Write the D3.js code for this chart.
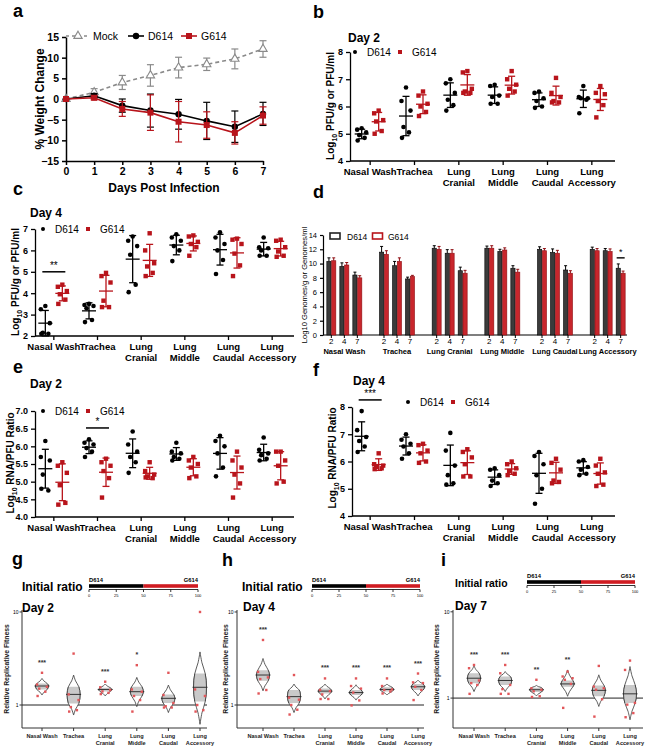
<!DOCTYPE html>
<html><head><meta charset="utf-8">
<script src="https://cdn.jsdelivr.net/npm/d3@7"></script>
<style>body{margin:0;background:#fff}svg{display:block;font-family:"Liberation Sans",Arial,sans-serif}</style>
</head><body><svg id="chart" width="647" height="749"></svg>
<script>
// ---------- Panel a: weight change ----------
const days = [0,1,2,3,4,5,6,7];
const mockMean = [0,1.6,4.0,5.7,7.6,8.4,9.7,12.1];
const mockErr  = [0,0.9,1.7,2.6,2.5,1.5,2.4,2.0];
const d614Mean = [0,0.8,-1.6,-2.8,-3.7,-5.3,-6.7,-3.6];
const d614Err  = [0,0.5,1.6,4.0,3.6,4.5,3.8,2.8];
const g614Mean = [0,0.3,-2.4,-3.3,-5.5,-6.3,-8.2,-4.0];
const g614Err  = [0,0.5,1.8,4.3,4.9,3.2,2.7,2.1];
const weightTicks = [-15,-10,-5,0,5,10,15];

// ---------- Tissues ----------
const tissues = ["Nasal Wash","Trachea","Lung Cranial","Lung Middle","Lung Caudal","Lung Accessory"];
const tissueLines = [["Nasal Wash"],["Trachea"],["Lung","Cranial"],["Lung","Middle"],["Lung","Caudal"],["Lung","Accessory"]];

// ---------- Panel b: Day 2 titers ----------
const bD614 = [[5.2,5.15,5.05,4.95,4.85,4.75],[6.7,6.2,5.85,5.25,5.05,4.85],[7.0,6.85,6.5,6.25,6.05,5.85],[6.8,6.75,6.4,6.35,6.1,6.1],[6.55,6.5,6.3,6.2,6.0,5.95],[6.75,6.35,6.3,6.3,6.25,5.75]];
const bG614 = [[5.85,5.75,5.5,5.45,5.1,5.0],[6.55,6.4,6.1,6.0,5.8,5.65],[7.3,7.25,6.65,6.55,6.5,6.5],[7.3,7.0,6.8,6.65,6.55,6.4],[7.05,6.5,6.35,6.2,6.15,6.15],[6.75,6.5,6.45,6.2,6.05,5.6]];
const bTicks = [4,5,6,7,8];
// ---------- Panel c: Day 4 titers ----------
const cD614 = [[3.4,3.25,2.6,2.15,2.1,2.1],[3.5,3.45,3.4,3.3,2.75,2.65],[6.65,6.45,6.2,5.8,4.4,4.05],[6.75,6.6,6.45,6.2,6.0,5.5],[6.85,6.6,6.3,6.0,5.55,4.9],[6.6,6.15,6.1,6.0,5.75,5.75]];
const cG614 = [[4.4,4.3,4.1,3.95,3.7,3.5],[4.95,4.8,4.5,3.65,3.35,3.35],[6.8,6.0,5.4,5.25,4.95,4.8],[6.7,6.65,6.4,6.3,6.15,5.75],[6.55,6.5,6.3,5.85,5.3,4.8],[6.5,6.45,6.15,5.95,5.75,5.7]];
const cTicks = [2,3,4,5,6,7];
const cSig = [["Nasal Wash",5.0,"**"]];
// ---------- Panel d: genomes ----------
const dDays = ["2","4","7"];
const dD614 = [[10.3,9.6,8.4],[11.6,9.7,7.85],[12.15,11.45,9.0],[12.15,11.7,9.35],[12.0,11.55,9.1],[12.0,11.8,9.35]];
const dG614 = [[10.4,9.8,8.0],[11.3,10.3,8.2],[12.0,11.45,8.65],[12.15,11.9,8.8],[11.8,11.45,8.65],[11.8,11.7,8.65]];
const dD614Err = [[0.5,0.5,0.4],[0.8,0.6,0.25],[0.35,0.5,0.5],[0.3,0.3,0.35],[0.35,0.5,0.6],[0.3,0.3,0.6]];
const dG614Err = [[0.4,0.35,0.3],[0.5,0.5,0.15],[0.4,0.5,0.4],[0.35,0.3,0.4],[0.3,0.4,0.35],[0.3,0.35,0.3]];
const dTicks = [0,2,4,6,8,10,12,14];
const dSig = [["Lung Accessory","7",10.8,"*"]];
// ---------- Panel e: RNA/PFU day 2 ----------
const eD614 = [[6.15,5.7,5.6,5.2,4.75,4.8],[6.2,6.1,6.05,5.95,5.85,5.7],[6.42,6.05,5.85,5.7,5.55,5.25],[6.1,5.85,5.8,5.7,5.65,5.6],[6.3,6.15,6.0,5.8,5.4,5.15],[6.25,5.9,5.8,5.75,5.65,5.6]];
const eG614 = [[5.55,5.45,5.25,4.9,4.4,4.35],[5.65,5.55,5.45,5.3,5.1,4.55],[5.55,5.3,5.2,5.15,5.1,5.12],[5.7,5.6,5.5,5.4,5.15,5.1],[5.85,5.6,5.4,5.2,4.95,4.55],[5.85,5.85,5.6,5.45,5.0,4.95]];
const eTicks = [4.0,4.5,5.0,5.5,6.0,6.5,7.0];
const eSig = [["Trachea",6.52,"*"]];
// ---------- Panel f: RNA/PFU day 4 ----------
const fD614 = [[7.85,7.15,6.9,6.75,6.55,6.35],[7.0,6.8,6.65,6.55,6.3,6.1],[7.05,6.4,5.85,5.5,5.2,5.15],[5.75,5.7,5.5,5.3,5.2,5.1],[6.35,6.2,5.9,5.5,5.0,4.45],[6.05,6.0,5.8,5.7,5.55,5.5]];
const fG614 = [[6.3,5.9,5.85,5.8,5.75,5.72],[6.65,6.6,6.4,6.3,6.0,5.95],[6.45,6.35,6.15,5.9,5.45,5.45],[6.0,5.9,5.75,5.65,5.55,5.5],[6.1,5.95,5.7,5.3,5.25,5.2],[6.1,5.85,5.6,5.55,5.15,5.1]];
const fTicks = [4,5,6,7,8];
const fSig = [["Nasal Wash",8.26,"***"]];
// ---------- Panels g-i: relative replicative fitness ----------
const ratioTicks = [0,25,50,75,100];
const initialShare = [50,50];
const fitTicks = [1,10];
// [low, q1, median, q3, high]
const gViolin = [[1.28,1.47,1.6,1.7,1.93],[0.78,1.04,1.3,1.57,2.1],[1.25,1.4,1.47,1.53,1.68],[0.96,1.25,1.39,1.57,1.98],[0.83,1.05,1.18,1.3,1.64],[0.62,1.09,1.55,2.18,3.72]];
const gPoints = [[2.22,1.66,1.57,1.5,1.39,1.25],[3.57,1.3,1.13,0.95,0.88,0.85],[1.78,1.55,1.45,1.4,1.35,1.31],[2.68,1.47,1.39,1.25,1.13,0.85],[2.22,1.28,1.05,0.97,0.94,0.94],[10,1.47,1.25,1.0,0.88,0.85]];
const gStars = ["***","","***","*","",""];
const hViolin = [[1.42,1.82,2.1,2.37,3.16],[0.83,1.05,1.23,1.45,1.68],[1.16,1.33,1.41,1.5,1.68],[1.13,1.28,1.36,1.45,1.65],[1.28,1.4,1.47,1.55,1.68],[1.25,1.45,1.57,1.68,1.85]];
const hPoints = [[5.0,2.27,1.98,1.9,1.45,1.33],[2.1,1.2,1.14,1.0,0.89,0.79],[1.93,1.45,1.41,1.3,1.16,1.16],[1.93,1.6,1.5,1.36,1.12,0.99],[1.93,1.6,1.47,1.45,1.4,1.33],[2.18,1.75,1.72,1.57,1.45,1.13]];
const hStars = ["***","","***","***","***","***"];
const iViolin = [[1.19,1.49,1.7,1.94,2.36],[1.19,1.42,1.6,1.78,2.03],[1.06,1.18,1.25,1.32,1.4],[1.05,1.35,1.46,1.6,2.12],[0.8,1.05,1.23,1.4,1.86],[0.56,0.88,1.12,1.42,2.32]];
const iPoints = [[2.42,2.22,1.6,1.49,1.42,1.12],[2.42,1.94,1.42,1.27,1.12,1.12],[1.63,1.3,1.25,1.2,1.05,1.03],[2.03,1.78,1.7,1.63,1.46,0.77],[2.36,1.36,1.3,1.25,0.97,0.61],[2.72,2.12,0.88,0.84,0.67,0.6]];
const iStars = ["***","***","**","**","",""];

// ================= drawing =================
const RED = "#b8141b";
const svg = d3.select("#chart");
function text(g,x,y,s,size,o={}){
  return g.append("text").attr("x",x).attr("y",y).text(s)
    .attr("font-size",size).attr("font-weight",o.w||"normal")
    .attr("text-anchor",o.a||"start").attr("fill",o.c||"#000");
}
function styleAxis(ax,size,weight,sw){
  ax.select(".domain").attr("stroke","#000").attr("stroke-width",sw||1.3);
  ax.selectAll(".tick line").attr("stroke","#000").attr("stroke-width",sw||1.3);
  ax.selectAll(".tick text").attr("font-size",size).attr("font-weight",weight)
    .attr("font-family",'"Liberation Sans",Arial,sans-serif').attr("fill","#000");
}
function rotLabel(g,cx,cy,parts,size,weight){
  const t=g.append("text").attr("transform",`translate(${cx},${cy}) rotate(-90)`)
    .attr("text-anchor","middle").attr("font-size",size).attr("font-weight",weight||"bold");
  parts.forEach(p=>{
    const ts=t.append("tspan").text(p.t);
    if(p.sub) ts.attr("font-size",size*0.7).attr("dy",size*0.3);
    if(p.after) ts.attr("dy",-size*0.3);
  });
  return t;
}
// panel letters
[["a",13,17],["b",313,18],["c",13,195],["d",313,198],["e",13,373],["f",313,376],["g",12,565],["h",222,566],["i",441,566]]
  .forEach(([l,x,y])=>text(svg,x,y,l,18,{w:"bold"}));

// ---- Panel a ----
(function(){
  const g=svg.append("g");
  const x=d3.scaleLinear([0,7],[66,263]);
  const y=d3.scaleLinear([-15,15],[161,37]);
  const ya=g.append("g").attr("transform","translate(66,0)")
    .call(d3.axisLeft(y).tickValues(weightTicks).tickFormat(d3.format("d")).tickSize(4).tickSizeOuter(0));
  styleAxis(ya,10.5,"bold",1.5);
  const xa=g.append("g").attr("transform","translate(0,161)")
    .call(d3.axisBottom(x).tickValues(days).tickFormat(d3.format("d")).tickSize(4).tickSizeOuter(0));
  styleAxis(xa,10.5,"bold",1.5);
  text(g,164,192,"Days Post Infection",12,{w:"bold",a:"middle"});
  rotLabel(g,44,99,[{t:"% Weight Change"}],12,"bold");
  const series=[
    {m:mockMean,e:mockErr,c:"#8a8a8a",dash:"4,3",shape:"tri"},
    {m:d614Mean,e:d614Err,c:"#000",shape:"circ"},
    {m:g614Mean,e:g614Err,c:RED,shape:"sq"}];
  function marker(sg,shape,cx,cy,c){
    if(shape==="tri") sg.append("path").attr("d",d3.symbol(d3.symbolTriangle,30)()).attr("transform",`translate(${cx},${cy})`).attr("fill","#fff").attr("stroke",c).attr("stroke-width",1.1);
    else if(shape==="circ") sg.append("circle").attr("cx",cx).attr("cy",cy).attr("r",3.2).attr("fill",c);
    else sg.append("rect").attr("x",cx-3).attr("y",cy-3).attr("width",6).attr("height",6).attr("fill",c);
  }
  series.forEach(s=>{
    const sg=g.append("g");
    days.forEach((d,i)=>{
      if(s.e[i]<=0) return;
      const cx=x(d), y1=y(s.m[i]+s.e[i]), y2=y(s.m[i]-s.e[i]);
      sg.append("line").attr("x1",cx).attr("x2",cx).attr("y1",y1).attr("y2",y2).attr("stroke",s.c).attr("stroke-width",1.2);
      [y1,y2].forEach(yy=>sg.append("line").attr("x1",cx-3.5).attr("x2",cx+3.5).attr("y1",yy).attr("y2",yy).attr("stroke",s.c).attr("stroke-width",1.2));
    });
    sg.append("path").attr("d",d3.line().x((d,i)=>x(days[i])).y(d=>y(d))(s.m))
      .attr("fill","none").attr("stroke",s.c).attr("stroke-width",1.6).attr("stroke-dasharray",s.dash||null);
    days.forEach((d,i)=>marker(sg,s.shape,x(d),y(s.m[i]),s.c));
  });
  // legend
  const ly=36;
  g.append("line").attr("x1",66).attr("x2",90).attr("y1",ly).attr("y2",ly).attr("stroke","#8a8a8a").attr("stroke-width",1.5).attr("stroke-dasharray","3,3");
  marker(g,"tri",78,ly,"#8a8a8a");
  text(g,93,ly+3.8,"Mock",10.5);
  g.append("line").attr("x1",128).attr("x2",144).attr("y1",ly).attr("y2",ly).attr("stroke","#000").attr("stroke-width",1.6);
  marker(g,"circ",136,ly,"#000");
  text(g,148,ly+3.8,"D614",10.5);
  g.append("line").attr("x1",181).attr("x2",197).attr("y1",ly).attr("y2",ly).attr("stroke",RED).attr("stroke-width",1.6);
  marker(g,"sq",189,ly,RED);
  text(g,201,ly+3.8,"G614",10.5);
})();

// ---- Dot plots (b, c, e, f) ----
const jitter=[0,-4.5,4.5,-2.5,3,-4];
function dotPlot(c){
  const g=svg.append("g");
  const x=d3.scaleBand(tissues,c.xr);
  const y=d3.scaleLinear(c.yd,c.yr);
  const ya=g.append("g").attr("transform",`translate(${c.ax},0)`)
    .call(d3.axisLeft(y).tickValues(c.ticks).tickFormat(c.fmt).tickSize(4).tickSizeOuter(0));
  styleAxis(ya,9,"bold",1.3);
  const y0=c.yr[0];
  g.append("line").attr("x1",c.ax).attr("x2",c.xe).attr("y1",y0).attr("y2",y0).attr("stroke","#000").attr("stroke-width",1.3);
  tissues.forEach((t,i)=>{
    const cx=x(t)+x.bandwidth()/2;
    g.append("line").attr("x1",cx).attr("x2",cx).attr("y1",y0).attr("y2",y0+4).attr("stroke","#000").attr("stroke-width",1.3);
    tissueLines[i].forEach((l,k)=>text(g,cx,y0+14+k*10.5,l,9.5,{w:"bold",a:"middle"}));
  });
  [[c.D,"#000","circ",-c.off],[c.G,RED,"sq",c.off]].forEach(([data,col,shape,off])=>{
    data.forEach((vals,i)=>{
      const cx=x(tissues[i])+x.bandwidth()/2+off;
      vals.forEach((v,j)=>{
        const px=cx+jitter[j], py=y(v);
        if(shape==="circ") g.append("circle").attr("cx",px).attr("cy",py).attr("r",2.3).attr("fill",col);
        else g.append("rect").attr("x",px-2.2).attr("y",py-2.2).attr("width",4.4).attr("height",4.4).attr("fill",col);
      });
      const m=d3.mean(vals), sd=d3.deviation(vals);
      const yt=y(m+sd), yb=y(m-sd);
      g.append("line").attr("x1",cx).attr("x2",cx).attr("y1",yt).attr("y2",yb).attr("stroke",col).attr("stroke-width",1.3);
      [yt,yb].forEach(yy=>g.append("line").attr("x1",cx-3.5).attr("x2",cx+3.5).attr("y1",yy).attr("y2",yy).attr("stroke",col).attr("stroke-width",1.3));
      g.append("line").attr("x1",cx-7).attr("x2",cx+7).attr("y1",y(m)).attr("y2",y(m)).attr("stroke",col).attr("stroke-width",1.3);
    });
  });
  // legend
  g.append("circle").attr("cx",c.lx).attr("cy",c.ly).attr("r",2).attr("fill","#000");
  text(g,c.lx+12,c.ly+3.5,"D614",10);
  g.append("rect").attr("x",c.lx+45-2).attr("y",c.ly-2).attr("width",4).attr("height",4).attr("fill",RED);
  text(g,c.lx+57,c.ly+3.5,"G614",10);
  text(g,c.dx,c.dy,c.day,12,{w:"bold"});
  (c.sig||[]).forEach(([t,v,s])=>{
    const cx=x(t)+x.bandwidth()/2, yy=y(v);
    g.append("line").attr("x1",cx-c.off-3).attr("x2",cx+c.off+3).attr("y1",yy).attr("y2",yy).attr("stroke","#000").attr("stroke-width",1.5);
    text(g,cx,yy-3,s,10,{a:"middle"});
  });
  rotLabel(g,c.ylx,c.yly,c.ylab,10,"bold");
}
const fmtInt=d3.format("d"), fmt1=d3.format(".1f");
const pfuLab=[{t:"Log"},{t:"10",sub:true},{t:" PFU/g or PFU/ml",after:true}];
const rnaLab=[{t:"Log"},{t:"10",sub:true},{t:" RNA/PFU Ratio",after:true}];
dotPlot({ax:350,xe:615,xr:[348,614],yd:[4,8],yr:[161,52],ticks:bTicks,fmt:fmtInt,off:8.5,D:bD614,G:bG614,
  lx:355,ly:52,day:"Day 2",dx:348,dy:42,ylab:pfuLab,ylx:334,yly:106});
dotPlot({ax:35,xe:294,xr:[32,294],yd:[2,7],yr:[336,229],ticks:cTicks,fmt:fmtInt,off:8.5,D:cD614,G:cG614,
  lx:43,ly:229,day:"Day 4",dx:30,dy:217,ylab:pfuLab,ylx:19,yly:282,sig:cSig});
dotPlot({ax:35,xe:294,xr:[32,294],yd:[4,7],yr:[517,411],ticks:eTicks,fmt:fmt1,off:8.5,D:eD614,G:eG614,
  lx:43,ly:411,day:"Day 2",dx:30,dy:388,ylab:rnaLab,ylx:14,yly:463,sig:eSig});
dotPlot({ax:352,xe:615,xr:[348,614],yd:[4,8],yr:[516,407],ticks:fTicks,fmt:fmtInt,off:8.5,D:fD614,G:fG614,
  lx:408,ly:402,day:"Day 4",dx:353,dy:385,ylab:rnaLab,ylx:336,yly:458,sig:fSig});

// ---- Panel d: bars ----
(function(){
  const g=svg.append("g");
  const x=d3.scaleBand(tissues,[318,634]);
  const xd=d3.scalePoint(dDays,[-13,13]);
  const y=d3.scaleLinear([0,14],[335,235]);
  const ya=g.append("g").attr("transform","translate(323,0)")
    .call(d3.axisLeft(y).tickValues(dTicks).tickSize(3).tickSizeOuter(0));
  styleAxis(ya,7.5,"normal",1.2);
  g.append("line").attr("x1",323).attr("x2",627).attr("y1",335).attr("y2",335).attr("stroke","#000").attr("stroke-width",1.2);
  const bw=4.2;
  tissues.forEach((t,i)=>{
    const gc=x(t)+x.bandwidth()/2;
    dDays.forEach((d,k)=>{
      const cx=gc+xd(d);
      [[dD614,dD614Err,"#3b3b3b","#000",-2.4],[dG614,dG614Err,"#c8262c","#8e0d12",2.4]].forEach(([vals,errs,fill,stroke,off])=>{
        const v=vals[i][k], e=errs[i][k], bx=cx+off;
        g.append("rect").attr("x",bx-bw/2).attr("y",y(v)).attr("width",bw).attr("height",335-y(v)).attr("fill",fill).attr("stroke",stroke).attr("stroke-width",0.6);
        g.append("line").attr("x1",bx).attr("x2",bx).attr("y1",y(v)).attr("y2",y(v+e)).attr("stroke",stroke).attr("stroke-width",1);
        g.append("line").attr("x1",bx-1.5).attr("x2",bx+1.5).attr("y1",y(v+e)).attr("y2",y(v+e)).attr("stroke",stroke).attr("stroke-width",1);
      });
      g.append("line").attr("x1",cx).attr("x2",cx).attr("y1",335).attr("y2",338).attr("stroke","#000");
      text(g,cx,344,d,8,{a:"middle"});
    });
    text(g,gc,353.5,t,7.5,{w:"bold",a:"middle"});
  });
  dSig.forEach(([t,d,v,s])=>{
    const cx=x(t)+x.bandwidth()/2+xd(d);
    g.append("line").attr("x1",cx-4).attr("x2",cx+4).attr("y1",y(v)).attr("y2",y(v)).attr("stroke","#000").attr("stroke-width",1.4);
    text(g,cx,y(v)-3,s,9,{a:"middle"});
  });
  // legend
  g.append("rect").attr("x",330).attr("y",233).attr("width",10).attr("height",6).attr("fill","#fff").attr("stroke","#222").attr("stroke-width",1.6);
  text(g,347,239.5,"D614",8.5);
  g.append("rect").attr("x",372.5).attr("y",233).attr("width",10).attr("height",6).attr("fill","#fff").attr("stroke",RED).attr("stroke-width",1.6);
  text(g,388,239.5,"G614",8.5);
  rotLabel(g,307,285,[{t:"Log10 Genomes/g or Genomes/ml"}],7.6,"normal");
})();

// ---- Panels g-i: violins ----
function ratioBar(c){
  const g=svg.append("g");
  const s=d3.scaleLinear([0,100],[c.x0,c.x1]);
  text(g,c.tx,c.ty,"Initial ratio",c.fs,{w:"bold"});
  g.append("rect").attr("x",s(0)).attr("y",c.y-1.8).attr("width",s(initialShare[0])-s(0)).attr("height",3.6).attr("fill","#000");
  g.append("rect").attr("x",s(initialShare[0])).attr("y",c.y-1.8).attr("width",s(100)-s(initialShare[0])).attr("height",3.6).attr("fill","#d01c22");
  g.append("line").attr("x1",s(0)).attr("x2",s(100)).attr("y1",c.y+3.5).attr("y2",c.y+3.5).attr("stroke","#000").attr("stroke-width",0.8);
  ratioTicks.forEach(t=>{
    g.append("line").attr("x1",s(t)).attr("x2",s(t)).attr("y1",c.y+3.5).attr("y2",c.y+6).attr("stroke","#000").attr("stroke-width",0.8);
    text(g,s(t),c.y+11,t,4,{a:"middle"});
  });
  text(g,s(0),c.y-4.5,"D614",5.8,{w:"bold"});
  text(g,s(100),c.y-4.5,"G614",5.8,{w:"bold",a:"end"});
}
let clipId=0;
function violinPlot(c){
  const g=svg.append("g");
  const x=d3.scalePoint(tissues,c.xr);
  const y=d3.scaleLog(c.yd,[728,610]);
  g.append("line").attr("x1",c.ax).attr("x2",c.ax).attr("y1",610).attr("y2",728).attr("stroke","#333").attr("stroke-width",1);
  g.append("line").attr("x1",c.ax).attr("x2",c.xe).attr("y1",728).attr("y2",728).attr("stroke","#333").attr("stroke-width",1);
  g.append("line").attr("x1",c.ax).attr("x2",c.xe).attr("y1",y(1)).attr("y2",y(1)).attr("stroke","#222").attr("stroke-width",1);
  fitTicks.forEach(t=>{
    g.append("line").attr("x1",c.ax-2.5).attr("x2",c.ax).attr("y1",y(t)).attr("y2",y(t)).attr("stroke","#333");
    text(g,c.ax-3.5,y(t)+1.8,t,5,{a:"end"});
  });
  text(g,c.dx,c.dy,c.day,12,{w:"bold"});
  rotLabel(g,c.ylx,669,[{t:"Relative Replicative Fitness"}],6.8,"bold").attr("fill","#222");
  const W=6.5;
  tissues.forEach((t,i)=>{
    const cx=x(t);
    g.append("line").attr("x1",cx).attr("x2",cx).attr("y1",728).attr("y2",731).attr("stroke","#333");
    tissueLines[i].forEach((l,k)=>text(g,cx,738+k*6.5,l,5.6,{w:"bold",a:"middle",c:"#222"}));
    const [lo,q1,md,q3,hi]=c.V[i];
    const pts=[[lo,0],[Math.sqrt(lo*q1),0.3],[q1,0.8],[md,1],[q3,0.8],[Math.sqrt(q3*hi),0.3],[hi,0]];
    const area=d3.area().y(d=>y(d[0])).x0(d=>cx-d[1]*W).x1(d=>cx+d[1]*W).curve(d3.curveCatmullRom);
    g.append("path").attr("d",area(pts)).attr("fill","#fff").attr("stroke","#333").attr("stroke-width",0.8);
    const id="vc"+(clipId++);
    g.append("clipPath").attr("id",id).append("rect").attr("x",cx-W-1).attr("y",y(q3)).attr("width",2*W+2).attr("height",y(q1)-y(q3));
    g.append("path").attr("d",area(pts)).attr("fill","#c9c9c9").attr("stroke","#333").attr("stroke-width",0.8).attr("clip-path",`url(#${id})`);
    g.append("line").attr("x1",cx-W-1).attr("x2",cx+W+1).attr("y1",y(md)).attr("y2",y(md)).attr("stroke","#222").attr("stroke-width",0.9);
    c.P[i].forEach((v,j)=>{
      g.append("rect").attr("x",cx+jitter[j]*1.1-1.2).attr("y",y(v)-1.2).attr("width",2.4).attr("height",2.4).attr("fill","#e2565a");
    });
    if(c.S[i]){
      const top=Math.max(hi,d3.max(c.P[i]));
      text(g,cx,y(top)-8,c.S[i],7,{a:"middle",c:"#333",w:"bold"});
    }
  });
}
ratioBar({x0:89,x1:198,y:586,tx:22,ty:591,fs:12});
ratioBar({x0:312,x1:420,y:586,tx:242,ty:591,fs:12});
ratioBar({x0:527,x1:635,y:582,tx:455,ty:587,fs:10.4});
violinPlot({ax:22,xe:207,xr:[42,200],yd:[0.566,10.5],V:gViolin,P:gPoints,S:gStars,day:"Day 2",dx:22,dy:612,ylx:9});
violinPlot({ax:237,xe:424,xr:[263,418],yd:[0.566,10.5],V:hViolin,P:hPoints,S:hStars,day:"Day 4",dx:243,dy:611,ylx:228});
violinPlot({ax:453,xe:643,xr:[474,630],yd:[0.45,10.5],V:iViolin,P:iPoints,S:iStars,day:"Day 7",dx:455,dy:610,ylx:439});
</script></body></html>
